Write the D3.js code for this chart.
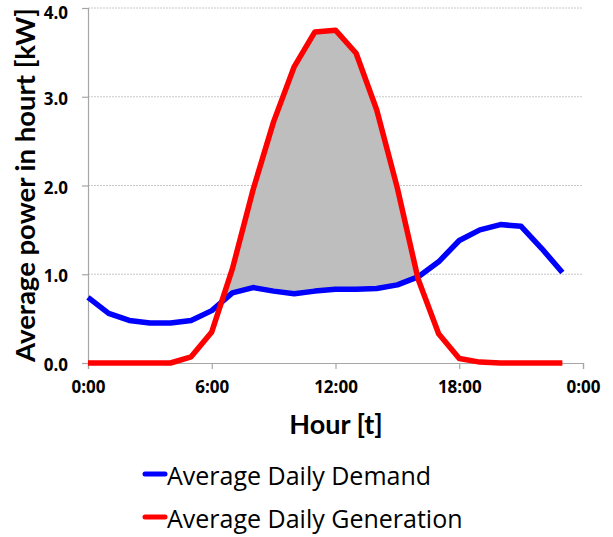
<!DOCTYPE html>
<html>
<head>
<meta charset="utf-8">
<script src="https://cdn.jsdelivr.net/npm/d3@7/dist/d3.min.js"></script>
<style>
  html, body { margin: 0; padding: 0; background: #fff; }
  svg { display: block; }
</style>
</head>
<body>
<svg id="chart" width="613" height="537"></svg>
<script>
// Hour of day for each sample (hourly averages)
const hours = d3.range(0, 24);

// Average household demand per hour [kW]
const demand = [0.74, 0.56, 0.48, 0.45, 0.45, 0.48, 0.59, 0.79, 0.85, 0.81, 0.78, 0.81,
                0.83, 0.83, 0.84, 0.88, 0.97, 1.14, 1.38, 1.50, 1.56, 1.54, 1.29, 1.02];

// Average PV generation per hour [kW]
const generation = [0, 0, 0, 0, 0, 0.07, 0.35, 1.06, 1.95, 2.72, 3.34, 3.73,
                    3.75, 3.49, 2.85, 1.97, 0.95, 0.33, 0.05, 0.01, 0, 0, 0, 0];

const xTickHours = [0, 6, 12, 18, 24];
const xTickLabels = ["0:00", "6:00", "12:00", "18:00", "0:00"];
const yTicks = [0, 1, 2, 3, 4];

const seriesNames = ["Average Daily Demand", "Average Daily Generation"];
const seriesColors = ["#0000ff", "#ff0000"];

const svg = d3.select("#chart");
const m = { left: 88, right: 30, top: 8, bottom: 174 };
const W = 613, H = 537;

const x = d3.scaleLinear().domain([0, 24]).range([m.left, W - m.right]);
const y = d3.scaleLinear().domain([0, 4]).range([H - m.bottom, m.top]);

const demandPts = hours.map((h, i) => [h, demand[i]]);
const genPts = hours.map((h, i) => [h, generation[i]]);

// Horizontal dotted gridlines
svg.append("g")
  .selectAll("line")
  .data(yTicks.filter(v => v > 0))
  .join("line")
  .attr("x1", x(0)).attr("x2", x(24))
  .attr("y1", d => y(d)).attr("y2", d => y(d))
  .attr("stroke", "#c8c8c8")
  .attr("stroke-width", 1)
  .attr("stroke-dasharray", "2,1");

// Surplus region: above demand and below generation
const defs = svg.append("defs");
defs.append("clipPath").attr("id", "under-gen")
  .append("path")
  .attr("d", d3.area().x(d => x(d[0])).y0(y(0)).y1(d => y(d[1]))(genPts));

svg.append("path")
  .attr("clip-path", "url(#under-gen)")
  .attr("fill", "#bebebe")
  .attr("d", d3.area().x(d => x(d[0])).y0(y(4)).y1(d => y(d[1]))(demandPts));

// Axes
const xAxis = d3.axisBottom(x).tickValues(xTickHours)
  .tickFormat((d, i) => xTickLabels[i]).tickSize(6).tickPadding(12);
const yAxis = d3.axisLeft(y).tickValues(yTicks)
  .tickFormat(d3.format(".1f")).tickSize(6).tickPadding(14);

const gx = svg.append("g").attr("transform", `translate(0,${y(0)})`).call(xAxis);
const gy = svg.append("g").attr("transform", `translate(${x(0)},0)`).call(yAxis);
[gx, gy].forEach(g => {
  g.select(".domain").attr("stroke", "#a6a6a6").attr("stroke-width", 1.2);
  g.selectAll(".tick line").attr("stroke", "#a6a6a6").attr("stroke-width", 1.2);
  g.selectAll(".tick text")
    .attr("fill", "#000")
    .attr("font-family", "'Open Sans', Lato, sans-serif")
    .attr("font-weight", "bold")
    .attr("font-size", 17);
});
// keep the top label inside the frame, nudge others slightly down
gy.selectAll(".tick text").attr("dy", d => d === 4 ? "0.6em" : "0.45em");

// Series lines
const line = d3.line().x(d => x(d[0])).y(d => y(d[1]));
[demandPts, genPts].forEach((pts, i) => {
  svg.append("path")
    .attr("d", line(pts))
    .attr("fill", "none")
    .attr("stroke", seriesColors[i])
    .attr("stroke-width", 5.5)
    .attr("stroke-linejoin", "round");
});

// Axis titles
svg.append("text")
  .attr("transform", `translate(35,185) rotate(-90)`)
  .attr("text-anchor", "middle")
  .attr("font-family", "Lato, 'Open Sans', sans-serif")
  .attr("font-weight", "bold")
  .attr("font-size", 27.5)
  .text("Average power in hourt [kW]");

svg.append("text")
  .attr("x", 336)
  .attr("y", 434)
  .attr("text-anchor", "middle")
  .attr("font-family", "Lato, 'Open Sans', sans-serif")
  .attr("font-weight", "bold")
  .attr("font-size", 27)
  .text("Hour [t]");

// Legend
const legend = svg.append("g");
seriesNames.forEach((name, i) => {
  const ly = 474 + i * 43;
  legend.append("line")
    .attr("x1", 145).attr("x2", 165)
    .attr("y1", ly).attr("y2", ly)
    .attr("stroke", seriesColors[i])
    .attr("stroke-width", 5)
    .attr("stroke-linecap", "round");
  legend.append("text")
    .attr("x", 167).attr("y", ly + 11)
    .attr("font-family", "'Open Sans', Lato, sans-serif")
    .attr("font-size", 25)
    .attr("fill", "#000")
    .text(name);
});
</script>
</body>
</html>
